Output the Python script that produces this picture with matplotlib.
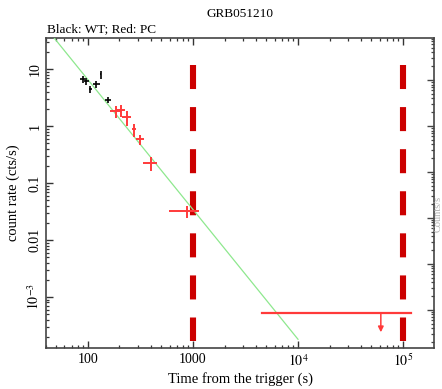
import numpy as np
import matplotlib
matplotlib.use("Agg")
import matplotlib.pyplot as plt
from matplotlib.ticker import FixedLocator, FixedFormatter, LogLocator, NullFormatter

plt.rcParams['font.family'] = ['Liberation Serif', 'DejaVu Serif']
plt.rcParams['mathtext.fontset'] = 'stix'
plt.rcParams['lines.scale_dashes'] = False

# WT mode (black)
wt_t = [90, 97, 106, 121, 133, 156]
wt_terr = [5, 5, 3, 9, 1, 10]
wt_rate = [6.6, 6.2, 4.4, 5.4, 8.1, 2.86]
wt_rerr = [0.9, 0.9, 0.6, 0.8, 1.3, 0.35]

# PC mode (red)
pc_t = [185, 206, 234, 275, 313, 398, 871]
pc_terr_lo = [22, 22, 22, 12, 28, 60, 280]
pc_terr_hi = [22, 22, 22, 12, 28, 60, 270]
pc_rate = [1.84, 1.9, 1.42, 0.875, 0.585, 0.222, 0.032]
pc_rerr = [0.45, 0.45, 0.4, 0.22, 0.12, 0.06, 0.008]

# PC upper limit
ul_tstart = 4540
ul_tstop = 119000
ul_tmid = 61400
ul_rate = 5.2e-4
ul_arrow_to = 2.4e-4

# power-law decay model
model_norm = 32.6
model_t0 = 49.5
model_index = 2.28
model_tmin, model_tmax = 40, 1.0e4

# observation markers
obs_times = [1000, 1.0e5]
obs_ylo, obs_yhi = 1.7e-4, 11.75

xticks = [100, 1000, 1e4, 1e5]
xticklabels = ['100', '1000', r'$10^4$', r'$10^5$']
yticks = [1e-3, 0.01, 0.1, 1, 10]
yticklabels = [r'$10^{-3}$', '0.01', '0.1', '1', '10']

fig = plt.figure(figsize=(4.42, 3.89), dpi=100)
ax = fig.add_axes([0.104, 0.1054, 0.878, 0.7966])
ax.set_xscale('log')
ax.set_yscale('log')
ax.set_xlim(40, 1.97e5)
ax.set_ylim(1.27e-4, 35)

red = '#ff3a3a'
dark_red = '#cc0000'

for t in obs_times:
    ax.plot([t, t], [obs_yhi, obs_ylo], color=dark_red, lw=4.4,
            dashes=(17.3, 13.0), solid_capstyle='butt', dash_capstyle='butt', zorder=2)

tm = np.logspace(np.log10(model_tmin), np.log10(model_tmax), 200)
ax.plot(tm, model_norm * (tm / model_t0) ** (-model_index), color='#8ee88e', lw=0.9, zorder=3)

ax.errorbar(wt_t, wt_rate, xerr=wt_terr, yerr=wt_rerr, fmt='none',
            ecolor='black', elinewidth=1.2, capsize=0, zorder=4)
ax.errorbar(pc_t, pc_rate, xerr=[pc_terr_lo, pc_terr_hi], yerr=pc_rerr, fmt='none',
            ecolor=red, elinewidth=1.4, capsize=0, zorder=4)

ax.plot([ul_tstart, ul_tstop], [ul_rate, ul_rate], color=red, lw=1.6, zorder=4)
ax.annotate('', xy=(ul_tmid, ul_arrow_to), xytext=(ul_tmid, ul_rate),
            arrowprops=dict(arrowstyle='-|>', color=red, lw=1.1,
                            mutation_scale=8, shrinkA=0, shrinkB=0), zorder=4)

ax.xaxis.set_major_locator(FixedLocator(xticks))
ax.xaxis.set_major_formatter(FixedFormatter(xticklabels))
ax.xaxis.set_minor_locator(LogLocator(base=10, subs=np.arange(2, 10)))
ax.xaxis.set_minor_formatter(NullFormatter())
ax.yaxis.set_major_locator(FixedLocator(yticks))
ax.yaxis.set_major_formatter(FixedFormatter(yticklabels))
ax.yaxis.set_minor_locator(LogLocator(base=10, subs=np.arange(2, 10)))
ax.yaxis.set_minor_formatter(NullFormatter())

ax.tick_params(which='both', direction='in', top=True, right=False, colors='#333333',
               labelsize=10, labelcolor='black')
ax.tick_params(which='major', length=5, width=1.0)
ax.tick_params(which='minor', length=2.5, width=0.9)
ax.tick_params(axis='y', which='major', labelrotation=90, pad=3)
for lab in ax.get_yticklabels():
    lab.set_va('center')
for sp in ax.spines.values():
    sp.set_color('#444444')
    sp.set_linewidth(1.2)

# secondary flux-like scale on the right spine
ax2 = ax.twinx()
ax2.set_yscale('log')
ax2.set_ylim(10 ** (-7.087 - 6.74), 10 ** (-7.087))
ax2.yaxis.set_major_locator(LogLocator(base=10))
ax2.yaxis.set_minor_locator(LogLocator(base=10, subs=np.arange(2, 10)))
ax2.yaxis.set_major_formatter(NullFormatter())
ax2.yaxis.set_minor_formatter(NullFormatter())
ax2.tick_params(which='both', direction='in', colors='#444444')
ax2.tick_params(which='major', length=5, width=1.0)
ax2.tick_params(which='minor', length=2.5, width=0.9)
for sp in ax2.spines.values():
    sp.set_visible(False)

ax.set_xlabel('Time from the trigger (s)', fontsize=10.5, labelpad=2)
ax.set_ylabel('count rate (cts/s)', fontsize=10.5, labelpad=4)

fig.text(0.543, 0.964, 'GRB051210', ha='center', va='center', fontsize=9.5)
fig.text(0.106, 0.925, 'Black: WT; Red: PC', ha='left', va='center', fontsize=9.5)
fig.text(0.9915, 0.45, 'Counts/s', rotation=90, ha='center', va='center',
         fontsize=7.5, color='#b0b0b0')

fig.savefig('out.png', dpi=100)
